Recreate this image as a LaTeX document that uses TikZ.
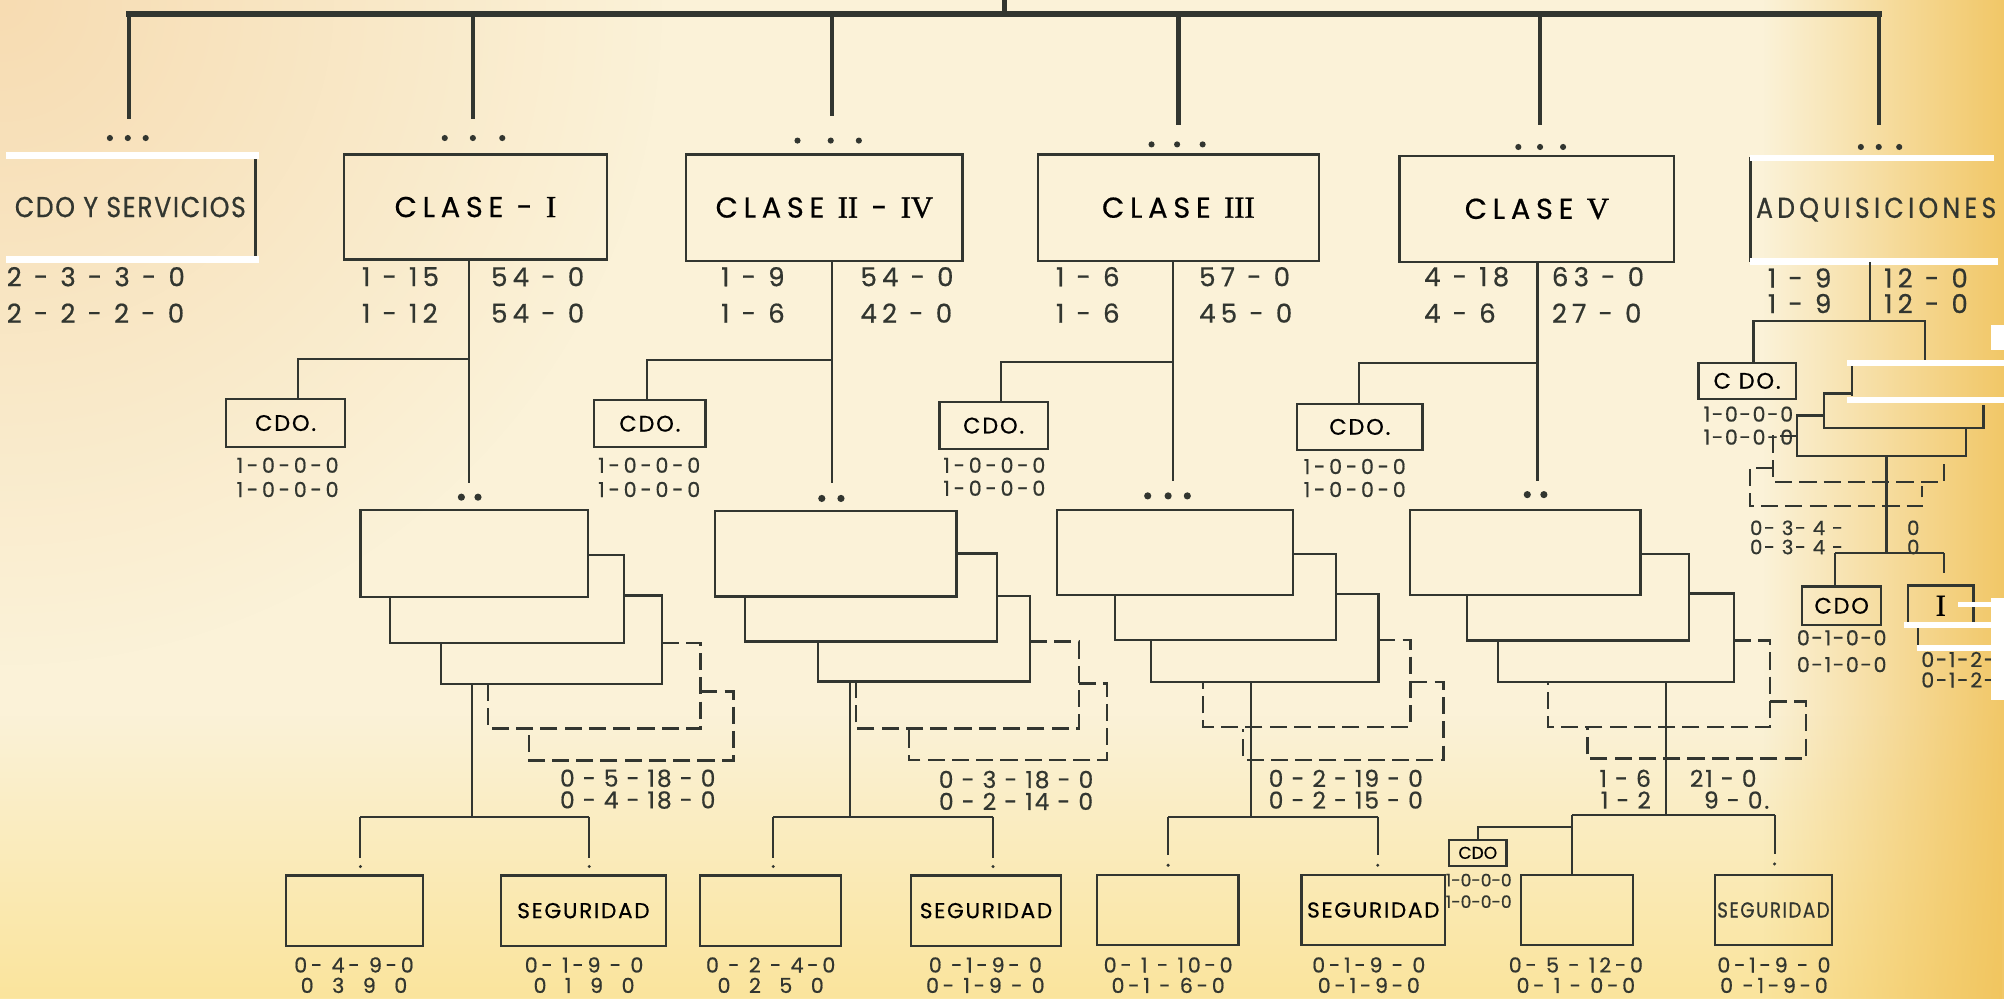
\documentclass[tikz,border=0pt]{standalone}
\usepackage{fontspec}
\setmainfont{Poppins}[FakeBold=0.6]
\newfontfamily\tightface[LetterSpace=8, FakeBold=0.6]{Poppins}
\newfontfamily\wideface[LetterSpace=20, FakeBold=0.6]{Poppins}
\newfontfamily\spreadface[LetterSpace=18, FakeBold=0.6]{Poppins}
\newfontfamily\headface[LetterSpace=6, FakeStretch=0.87, FakeBold=0.6]{Poppins}
\newfontfamily\adqface[LetterSpace=15, FakeStretch=0.87, FakeBold=0.6]{Poppins}
\newfontfamily\romface[FakeBold=1]{Liberation Serif}
\usetikzlibrary{calc,fadings}

\definecolor{paper}{RGB}{251,242,216}
\definecolor{inkc}{RGB}{50,54,48}
\definecolor{peach}{RGB}{247,220,178}
\definecolor{straw}{RGB}{250,226,146}
\definecolor{amber}{RGB}{240,192,84}

\tikzfading[name=cornerfade, inner color=transparent!0, outer color=transparent!100]

\newcommand{\rmn}[1]{{\romface\fontsize{17}{18}\selectfont #1}}
\newcommand{\fclase}{\wideface\fontsize{16}{18}\selectfont}
\newcommand{\fhead}{\headface\fontsize{16}{18}\selectfont}
\newcommand{\fadqh}{\adqface\fontsize{16}{18}\selectfont}
\newcommand{\fnum}{\wideface\fontsize{14.5}{16}\selectfont}
\newcommand{\fstack}{\tightface\fontsize{13}{15}\selectfont}
\newcommand{\fcdo}{\tightface\fontsize{12.5}{14}\selectfont}
\newcommand{\fsmall}{\spreadface\fontsize{11.5}{13}\selectfont}
\newcommand{\fadq}{\tightface\fontsize{11.5}{13}\selectfont}
\newcommand{\fadqn}{\tightface\fontsize{11}{12}\selectfont}
\newcommand{\fseg}{\tightface\fontsize{12}{14}\selectfont}
\newcommand{\fmini}{\rmfamily\fontsize{9.5}{10}\selectfont}

\begin{document}
\begin{tikzpicture}[x=0.025cm, y=-0.025cm,
  box/.style={draw=inkc, line width=1.3pt, inner sep=0pt, outer sep=0pt},
  ghost/.style={inner sep=0pt, outer sep=0pt},
  sz/.style 2 args={minimum width=#1*0.025cm, minimum height=#2*0.025cm},
  lnk/.style={draw=inkc, line width=1.2pt},
  edge/.style={draw=inkc, line width=1.3pt},
  drop/.style={draw=inkc, line width=2.4pt},
  bus/.style={draw=inkc, line width=3.4pt, line cap=rect},
  dsh/.style={draw=inkc, line width=1.3pt, dash pattern=on 9.5pt off 4pt},
  txt/.style={inner sep=0pt, text=inkc},
  tape/.style={fill=white}]

  % paper
  \useasboundingbox (0,0) rectangle (1568,781);
  \fill[paper] (0,0) rectangle (1568,781);
  \fill[peach, path fading=cornerfade] (0,0) circle (520);
  \fill[straw, path fading=north] (0,560) rectangle (1568,820);
  \fill[amber, path fading=west] (1380,-20) rectangle (1600,800);

  % main line and drops
  \coordinate (apex) at (786,0);
  \coordinate (busw) at (101,11);
  \coordinate (buse) at (1470,11);
  \coordinate (d0) at (101,93);
  \coordinate (d1) at (370,93);
  \coordinate (d2) at (651,91);
  \coordinate (d3) at (922,98);
  \coordinate (d5) at (1205,98);
  \coordinate (d6) at (1470,98);
  \draw[bus] (busw) -- (buse);
  \draw[drop] (apex) -- (apex |- busw);
  \foreach \d in {d0,d1,d2,d3,d5,d6}
    \draw[drop] (\d |- busw) -- (\d);
  \foreach \x/\y in {86/108,100/108,114/108, 348/108,370/108,393/108,
                     624/110,650/110,672/110, 901/113,921/113,941/113,
                     1188/115,1205/115,1223/115, 1456/115,1470/115,1486/115}
    \fill[inkc] (\x,\y) circle (2.4);

  % first level
  \node[txt, sz={195}{82}, font=\fhead] (cdosv) at (102,162) {CDO Y SERVICIOS};
  \node[box, sz={206}{82}, font=\fclase] (cl1) at (372,162) {CLASE - \rmn{I}};
  \node[box, sz={216}{83}, font=\fclase] (cl2) at (645,162.5) {CLASE \rmn{II} - \rmn{IV}};
  \node[box, sz={220}{83}, font=\fclase] (cl3) at (922,162.5) {CLASE \rmn{III}};
  \node[box, sz={215}{83}, font=\fclase] (cl5) at (1202.5,163.5) {CLASE \rmn{V}};
  \node[txt, sz={196}{82}, font=\fadqh] (adq) at (1468,164) {ADQUISICIONES};
  \draw[edge] (cdosv.north east) -- (cdosv.south east);
  \draw[edge] (adq.north west) -- (adq.south west);
  \fill[tape] (5,119) rectangle (203,124.5);
  \fill[tape] (5,200.5) rectangle (203,206);
  \fill[tape] (1369,121) rectangle (1560,126);
  \fill[tape] (1369,202) rectangle (1563,207);

  % strength figures
  \node[txt, font=\fnum, anchor=west] (sv1) at (5,216.5) {2 - 3 - 3 - 0};
  \node[txt, font=\fnum, anchor=west] (sv2) at (5,245) {2 - 2 - 2 - 0};
  \node[txt, font=\fnum, anchor=west] (c1l1) at (283,216.5) {1 - 15};
  \node[txt, font=\fnum, anchor=west] (c1l2) at (283,245) {1 - 12};
  \node[txt, font=\fnum, anchor=west] (c1r1) at (384,216.5) {54 - 0};
  \node[txt, font=\fnum, anchor=west] (c1r2) at (384,245) {54 - 0};
  \node[txt, font=\fnum, anchor=west] (c2l1) at (564,216.5) {1 - 9};
  \node[txt, font=\fnum, anchor=west] (c2l2) at (564,245) {1 - 6};
  \node[txt, font=\fnum, anchor=west] (c2r1) at (673,216.5) {54 - 0};
  \node[txt, font=\fnum, anchor=west] (c2r2) at (673,245) {42 - 0};
  \node[txt, font=\fnum, anchor=west] (c3l1) at (826,216.5) {1 - 6};
  \node[txt, font=\fnum, anchor=west] (c3l2) at (826,245) {1 - 6};
  \node[txt, font=\fnum, anchor=west] (c3r1) at (938,216.5) {57 - 0};
  \node[txt, font=\fnum, anchor=west] (c3r2) at (938,245) {45 - 0};
  \node[txt, font=\fnum, anchor=west] (c5l1) at (1114,216.5) {4 - 18};
  \node[txt, font=\fnum, anchor=west] (c5l2) at (1114,245) {4 - 6};
  \node[txt, font=\fnum, anchor=west] (c5r1) at (1214,216.5) {63 - 0};
  \node[txt, font=\fnum, anchor=west] (c5r2) at (1214,245) {27 - 0};
  \node[txt, font=\fnum, anchor=west] (adl1) at (1383,217.5) {1 - 9};
  \node[txt, font=\fnum, anchor=west] (adl2) at (1383,237.5) {1 - 9};
  \node[txt, font=\fnum, anchor=west] (adr1) at (1474,217.5) {12 - 0};
  \node[txt, font=\fnum, anchor=west] (adr2) at (1474,237.5) {12 - 0};

  % axes down to the units
  \coordinate (k1) at (367,378);
  \coordinate (k2) at (651,378);
  \coordinate (k3) at (918,376);
  \coordinate (k5) at (1203,376);
  \draw[lnk] (cl1.south -| k1) -- (k1);
  \draw[lnk] (cl2.south -| k2) -- (k2);
  \draw[lnk] (cl3.south -| k3) -- (k3);
  \draw[lnk] (cl5.south -| k5) -- (k5);

  % command elements
  \node[box, sz={93}{38}, font=\fcdo] (cdo1) at (223.5,331) {CDO.};
  \node[box, sz={87}{37}, font=\fcdo] (cdo2) at (508.5,331.5) {CDO.};
  \node[box, sz={85}{37}, font=\fcdo] (cdo3) at (777.5,333) {CDO.};
  \node[box, sz={98}{36}, font=\fcdo] (cdo5) at (1064,334) {CDO.};
  \coordinate (j1) at (367,281);  \coordinate (j1c) at (233,281);
  \coordinate (j2) at (651,282);  \coordinate (j2c) at (506,282);
  \coordinate (j3) at (918,283);  \coordinate (j3c) at (783,283);
  \coordinate (j5) at (1203,284); \coordinate (j5c) at (1063,284);
  \draw[lnk] (j1) -- (j1c) -- (j1c |- cdo1.north);
  \draw[lnk] (j2) -- (j2c) -- (j2c |- cdo2.north);
  \draw[lnk] (j3) -- (j3c) -- (j3c |- cdo3.north);
  \draw[lnk] (j5) -- (j5c) -- (j5c |- cdo5.north);
  \node[txt, font=\fsmall] (cdo1a) at (225,364) {1-0-0-0};
  \node[txt, font=\fsmall] (cdo1b) at (225,383) {1-0-0-0};
  \node[txt, font=\fsmall] (cdo2a) at (508,364) {1-0-0-0};
  \node[txt, font=\fsmall] (cdo2b) at (508,383) {1-0-0-0};
  \node[txt, font=\fsmall] (cdo3a) at (778,364) {1-0-0-0};
  \node[txt, font=\fsmall] (cdo3b) at (778,382) {1-0-0-0};
  \node[txt, font=\fsmall] (cdo5a) at (1060,365) {1-0-0-0};
  \node[txt, font=\fsmall] (cdo5b) at (1060,383) {1-0-0-0};

  % unit dots
  \foreach \x/\y in {361/389,374/389, 643/390,658/390,
                     898/388,914/388,929/388, 1195/387,1208/387}
    \fill[inkc] (\x,\y) circle (2.8);

  % Clase I units
  \node[box, sz={178}{68}] (s1a) at (371,433) {};
  \node[ghost, sz={183}{69}] (s1b) at (396.5,468.5) {};
  \node[ghost, sz={173}{69}] (s1c) at (431.5,500.5) {};
  \draw[edge] (s1a.east |- s1b.north) -- (s1b.north east) -- (s1b.south east) -- (s1b.south west) -- (s1a.south -| s1b.west);
  \draw[edge] (s1b.east |- s1c.north) -- (s1c.north east) -- (s1c.south east) -- (s1c.south west) -- (s1b.south -| s1c.west);
  \draw[dsh] (s1c.east |- s1b.south) -- ++(30,0) -- ++(0,67) -| ($(s1c.south west)+(37,0)$);
  \draw[dsh] ($(s1c.south east)+(30,6)$) -- ++(26,0) -- ++(0,54) -| ($(s1c.south west)+(69,36)$);
  \coordinate (b1) at (369,639);
  \coordinate (b1w) at (282,639);
  \coordinate (b1e) at (461,639);
  \draw[lnk] (b1 |- s1c.south) -- (b1);
  \draw[lnk] (b1w) -- (b1e);
  \draw[lnk] (b1w) -- ++(0,32);
  \draw[lnk] (b1e) -- ++(0,32);
  \node[txt, font=\fstack] (s1n1) at (499,609) {0 - 5 - 18 - 0};
  \node[txt, font=\fstack] (s1n2) at (499,626) {0 - 4 - 18 - 0};

  % Clase II-IV units
  \node[box, sz={189}{67}] (s2a) at (654,433.3) {};
  \node[ghost, sz={197}{69}] (s2b) at (681.5,467.5) {};
  \node[ghost, sz={166}{67}] (s2c) at (723,499.7) {};
  \draw[edge] (s2a.east |- s2b.north) -- (s2b.north east) -- (s2b.south east) -- (s2b.south west) -- (s2a.south -| s2b.west);
  \draw[edge] (s2b.east |- s2c.north) -- (s2c.north east) -- (s2c.south east) -- (s2c.south west) -- (s2b.south -| s2c.west);
  \draw[dsh] (s2c.east |- s2b.south) -- ++(38,0) -- ++(0,68) -| ($(s2c.south west)+(30,0)$);
  \draw[dsh] ($(s2c.south east)+(38,1.5)$) -- ++(22,0) -- ++(0,60) -| ($(s2c.south west)+(71,38)$);
  \coordinate (b2) at (665,639);
  \coordinate (b2w) at (605,639);
  \coordinate (b2e) at (777,639);
  \draw[lnk] (b2 |- s2c.south) -- (b2);
  \draw[lnk] (b2w) -- (b2e);
  \draw[lnk] (b2w) -- ++(0,32);
  \draw[lnk] (b2e) -- ++(0,32);
  \node[txt, font=\fstack] (s2n1) at (795,610) {0 - 3 - 18 - 0};
  \node[txt, font=\fstack] (s2n2) at (795,627) {0 - 2 - 14 - 0};

  % Clase III units
  \node[box, sz={184.5}{66.6}] (s3a) at (919.3,432.3) {};
  \node[ghost, sz={173}{67.3}] (s3b) at (958.9,467.2) {};
  \node[ghost, sz={178}{68.6}] (s3c) at (989.5,499.1) {};
  \draw[edge] (s3a.east |- s3b.north) -- (s3b.north east) -- (s3b.south east) -- (s3b.south west) -- (s3a.south -| s3b.west);
  \draw[edge] (s3b.east |- s3c.north) -- (s3c.north east) -- (s3c.south east) -- (s3c.south west) -- (s3b.south -| s3c.west);
  \draw[dsh] (s3c.east |- s3b.south) -- ++(25,0) -- ++(0,68) -| ($(s3c.south west)+(41,0)$);
  \draw[dsh] ($(s3c.south east)+(25,0)$) -- ++(26,0) -- ++(0,61) -| ($(s3c.south west)+(72,37)$);
  \coordinate (b3) at (979,639);
  \coordinate (b3w) at (914,639);
  \coordinate (b3e) at (1078,639);
  \draw[lnk] (b3 |- s3c.south) -- (b3);
  \draw[lnk] (b3w) -- (b3e);
  \draw[lnk] (b3w) -- ++(0,30);
  \draw[lnk] (b3e) -- ++(0,30);
  \node[txt, font=\fstack] (s3n1) at (1053,609) {0 - 2 - 19 - 0};
  \node[txt, font=\fstack] (s3n2) at (1053,626) {0 - 2 - 15 - 0};

  % Clase V units
  \node[box, sz={180.5}{66.6}] (s5a) at (1193.3,432.3) {};
  \node[ghost, sz={173.5}{67.5}] (s5b) at (1234.8,467.3) {};
  \node[ghost, sz={184.5}{69}] (s5c) at (1264.3,499) {};
  \draw[edge] (s5a.east |- s5b.north) -- (s5b.north east) -- (s5b.south east) -- (s5b.south west) -- (s5a.south -| s5b.west);
  \draw[edge] (s5b.east |- s5c.north) -- (s5c.north east) -- (s5c.south east) -- (s5c.south west) -- (s5b.south -| s5c.west);
  \draw[dsh] (s5c.east |- s5b.south) -- ++(28.5,0) -- ++(0,68) -| ($(s5c.south west)+(39,0)$);
  \draw[dsh] ($(s5c.south east)+(28.5,15.5)$) -- ++(28,0) -- ++(0,44.5) -| ($(s5c.south west)+(70,35)$);
  \coordinate (b5) at (1303.5,638);
  \coordinate (b5w) at (1230,638);
  \coordinate (b5e) at (1388.5,638);
  \coordinate (b5k) at (1230,647);
  \draw[lnk] (b5 |- s5c.south) -- (b5);
  \draw[lnk] (b5w) -- (b5e);
  \draw[lnk] (b5e) -- ++(0,30);
  \node[txt, font=\fstack, anchor=east] (s5l1) at (1292,609) {1 - 6};
  \node[txt, font=\fstack, anchor=east] (s5l2) at (1292,626) {1 - 2};
  \node[txt, font=\fstack, anchor=west] (s5r1) at (1322,609) {21 - 0};
  \node[txt, font=\fstack, anchor=west] (s5r2) at (1333,626) {9 - 0.};

  % lower dots
  \foreach \x/\y in {282/678,461/678,605/678,777/678,914/677,1078/677,1388.5/676}
    \fill[inkc] (\x,\y) circle (1.3);

  % sections
  \node[box, sz={107}{55}] (q1a) at (277.5,712.5) {};
  \node[box, sz={129}{55}, font=\fseg] (q1b) at (456.5,712.5) {SEGURIDAD};
  \node[box, sz={110}{55}] (q2a) at (602.8,712.5) {};
  \node[box, sz={117}{55}, font=\fseg] (q2b) at (771.5,712.5) {SEGURIDAD};
  \node[box, sz={110.6}{54.7}] (q3a) at (913.7,712) {};
  \node[box, sz={112.4}{54.7}, font=\fseg] (q3b) at (1074.5,712) {SEGURIDAD};
  \node[box, sz={87.5}{54.7}] (q5a) at (1233.8,712) {};
  \node[box, sz={91.6}{54.7}] (q5b) at (1387.6,712) {};
  \node[txt, font=\fseg, xscale=0.85] (q5bt) at (q5b) {SEGURIDAD};
  \node[box, sz={45}{20.6}, font=\fmini] (q5c) at (1156.3,667.3) {CDO};
  \draw[lnk] (b5w) -- (b5w |- q5a.north);
  \draw[lnk, line width=0.9pt] (b5k) -| (q5c.north);
  \node[txt, font=\fmini] (q5c1) at (1157,688.6) {1-0-0-0};
  \node[txt, font=\fmini] (q5c2) at (1157,705.5) {1-0-0-0};

  \node[txt, font=\fsmall] (q1a1) at (277,755) {0- 4- 9-0};
  \node[txt, font=\fsmall] (q1a2) at (277,771) {0 \ 3 \ 9 \ 0};
  \node[txt, font=\fsmall] (q1b1) at (457,755) {0- 1-9 - 0};
  \node[txt, font=\fsmall] (q1b2) at (457,771) {0 \ 1 \ 9 \ 0};
  \node[txt, font=\fsmall] (q2a1) at (603,755) {0 - 2 - 4-0};
  \node[txt, font=\fsmall] (q2a2) at (603,771) {0 \ 2 \ 5 \ 0};
  \node[txt, font=\fsmall] (q2b1) at (771,755) {0 -1-9- 0};
  \node[txt, font=\fsmall] (q2b2) at (771,771) {0- 1-9 - 0};
  \node[txt, font=\fsmall] (q3a1) at (914,755) {0- 1 - 10-0};
  \node[txt, font=\fsmall] (q3a2) at (914,771) {0-1 - 6-0};
  \node[txt, font=\fsmall] (q3b1) at (1071,755) {0-1-9 - 0};
  \node[txt, font=\fsmall] (q3b2) at (1071,771) {0-1-9-0};
  \node[txt, font=\fsmall] (q5a1) at (1233,755) {0- 5 - 12-0};
  \node[txt, font=\fsmall] (q5a2) at (1233,771) {0- 1 - 0-0};
  \node[txt, font=\fsmall] (q5b1) at (1388,755) {0-1-9 - 0};
  \node[txt, font=\fsmall] (q5b2) at (1388,771) {0 -1-9-0};

  % adquisiciones branch
  \coordinate (ka) at (1463,251);
  \coordinate (kaw) at (1372,251);
  \coordinate (kae) at (1506,251);
  \node[box, sz={76}{28}, font=\fcdo] (cdoa) at (1367,298) {C DO.};
  \draw[lnk] (adq.south -| ka) -- (ka);
  \draw[lnk] (kaw |- cdoa.north) -- (kaw) -- (kae) -- ++(0,33);
  \node[txt, font=\fadq] (cdoa1) at (1368,324) {1-0-0-0};
  \node[txt, font=\fadq] (cdoa2) at (1368,342) {1-0-0-0};
  \draw[edge] (1449,284) -- (1449,310);
  \draw[edge] (1449,308) -- (1427,308) -- (1427,335) -- (1552,335) -- (1552,317);
  \draw[edge] (1427,325) -- (1406,325) -- (1406,357) -- (1538,357) -- (1538,336);
  \draw[dsh] (1406,341) -- (1387,341) -- (1387,377) -- (1521,377) -- (1521,361);
  \draw[dsh] (1387,366) -- (1369,366) -- (1369,396) -- (1504,396) -- (1504,380);
  \coordinate (ma) at (1476,357);
  \coordinate (mb) at (1476,432);
  \draw[drop, line width=2pt] (ma) -- (mb);
  \node[txt, font=\fadqn, anchor=west] (adn1) at (1369,413) {0- 3- 4 -};
  \node[txt, font=\fadqn, anchor=west] (adn2) at (1369,428) {0- 3- 4 -};
  \node[txt, font=\fadqn] (adn3) at (1497,413) {0};
  \node[txt, font=\fadqn] (adn4) at (1497,428) {0};
  \node[box, sz={62}{30}, font=\fcdo] (cdob) at (1441,474) {CDO};
  \node[box, sz={51}{32}] (ib) at (1518.5,474) {\rmn{I}};
  \coordinate (mw) at (1436,433);
  \coordinate (me) at (1521,433);
  \coordinate (iv) at (1501,507);
  \draw[lnk] (mw) -- (me);
  \draw[lnk] (mw) -- (mw |- cdob.north);
  \draw[lnk] (me) -- ++(0,15);
  \draw[lnk] (ib.south -| iv) -- (iv);
  \node[txt, font=\fadq] (cdob1) at (1441,499) {0-1-0-0};
  \node[txt, font=\fadq] (cdob2) at (1441,520) {0-1-0-0};
  \node[txt, font=\fadq, anchor=west] (ib1) at (1503,516) {0-1-2-};
  \node[txt, font=\fadq, anchor=west] (ib2) at (1503,532) {0-1-2-};

  % torn right edge
  \fill[tape] (1445,281.5) rectangle (1568,286);
  \fill[tape] (1445,311) rectangle (1568,315.5);
  \fill[tape] (1558,254) rectangle (1568,274);
  \fill[tape] (1532,471) rectangle (1568,475);
  \fill[tape] (1490,487) rectangle (1568,491);
  \fill[tape] (1500,505) rectangle (1568,509);
  \fill[tape] (1558,468) rectangle (1568,548);
\end{tikzpicture}
\end{document}
